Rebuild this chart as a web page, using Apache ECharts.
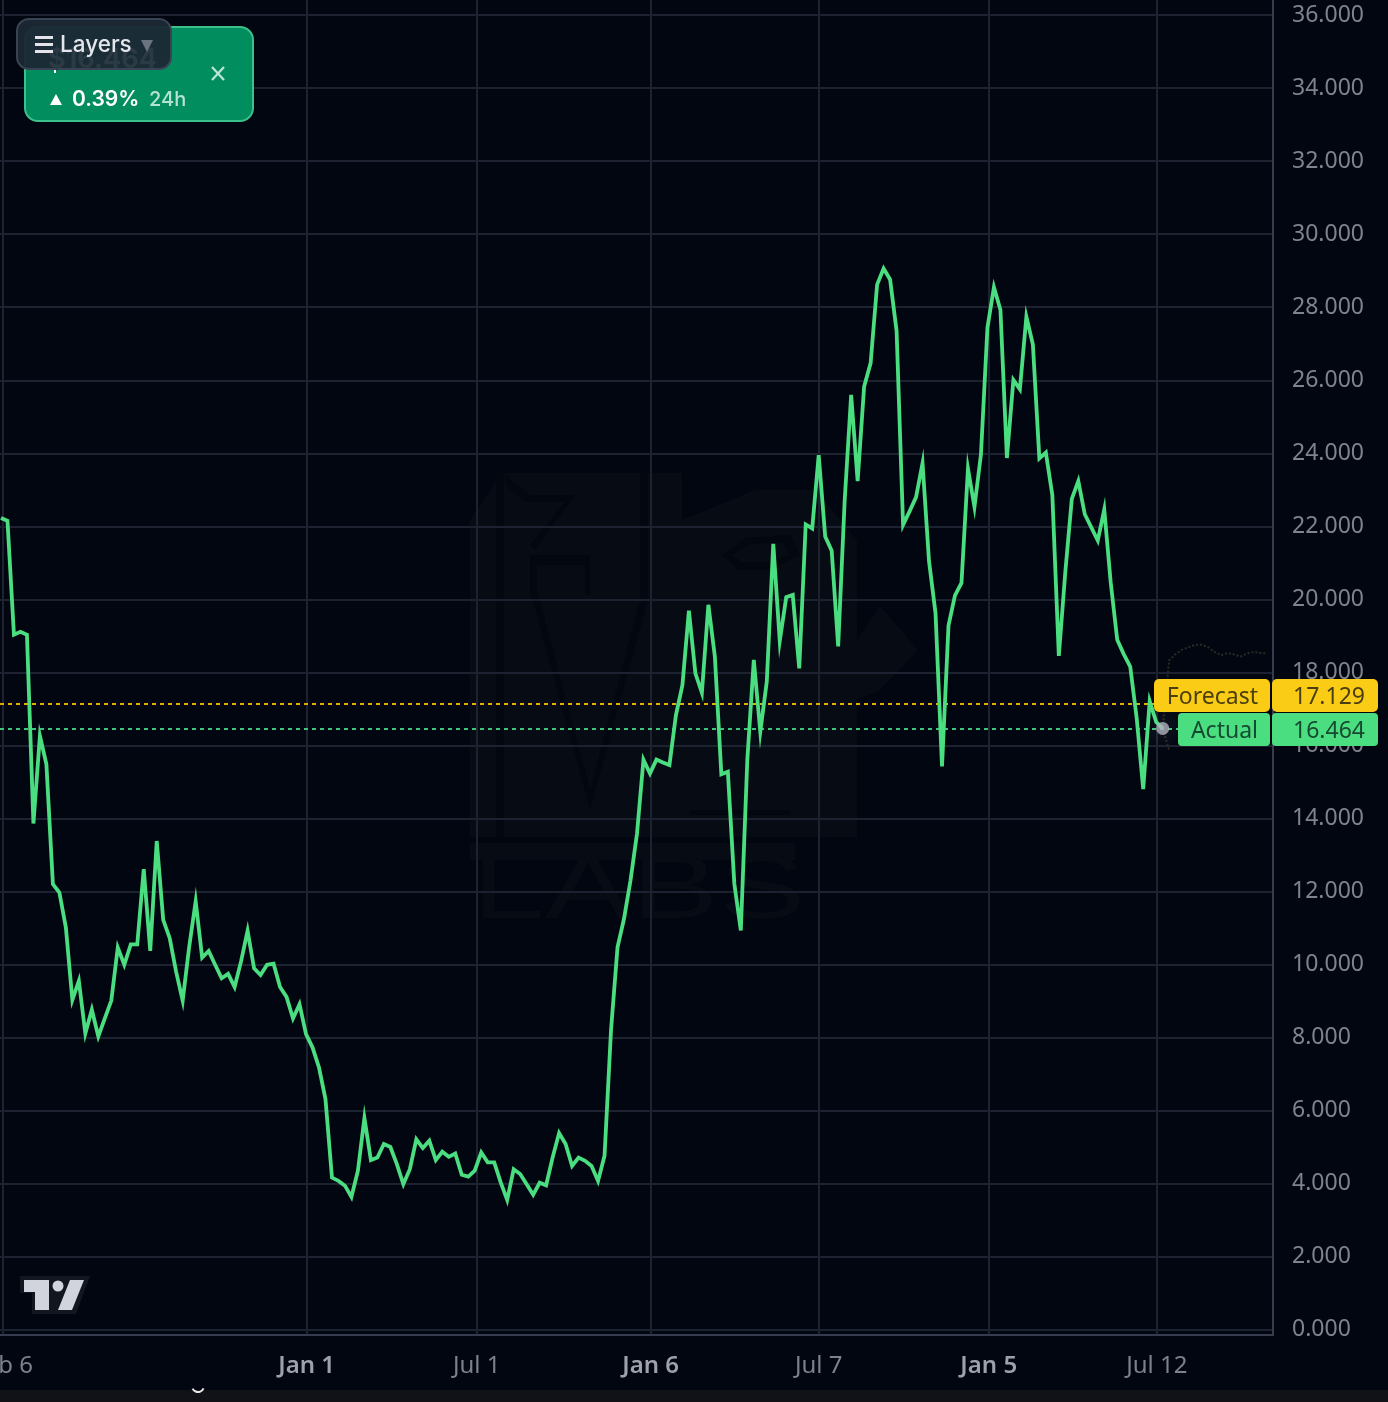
<!DOCTYPE html>
<html><head><meta charset="utf-8">
<style>html,body{margin:0;padding:0;background:#020611;overflow:hidden}#c{width:1388px;height:1402px}</style>
<script src="https://cdn.jsdelivr.net/npm/echarts@6/dist/echarts.min.js"></script>
</head><body><div id="c"></div>
<script>
const closeValues=[22.23,22.15,19.03,19.11,19.03,13.86,16.26,15.48,12.2,11.97,11.01,9.03,9.55,8.11,8.76,8.03,8.52,9.01,10.46,9.99,10.55,10.55,12.61,10.37,13.38,11.22,10.72,9.79,9.01,10.48,11.73,10.19,10.37,9.99,9.62,9.74,9.38,10.09,10.92,9.89,9.71,9.99,10.02,9.38,9.11,8.52,8.91,8.09,7.73,7.18,6.31,4.16,4.07,3.94,3.63,4.35,5.79,4.64,4.71,5.08,5.0,4.53,3.98,4.39,5.21,4.97,5.17,4.64,4.87,4.73,4.82,4.24,4.19,4.35,4.85,4.58,4.58,4.03,3.55,4.39,4.26,3.98,3.69,4.02,3.95,4.71,5.38,5.08,4.48,4.71,4.62,4.48,4.07,4.76,8.2,10.47,11.25,12.3,13.58,15.61,15.23,15.61,15.53,15.46,16.83,17.65,19.69,17.97,17.44,19.85,18.43,15.21,15.28,12.21,10.93,15.6,18.34,16.37,17.75,21.52,18.86,20.06,20.12,18.11,22.05,21.94,23.95,21.72,21.33,18.71,22.7,25.6,23.24,25.83,26.47,28.62,29.06,28.76,27.35,22.04,22.41,22.8,23.73,21.04,19.62,15.42,19.28,20.11,20.45,23.58,22.53,23.97,27.44,28.55,27.93,23.87,26.01,25.75,27.74,26.98,23.86,24.02,22.85,18.45,20.75,22.75,23.24,22.33,21.97,21.61,22.46,20.45,18.89,18.5,18.16,16.74,14.8,17.21,16.64,16.464];
const forecastUpper=[16.464,18.33,18.5,18.62,18.69,18.75,18.76,18.69,18.56,18.47,18.53,18.49,18.43,18.52,18.56,18.53,18.52];
const forecastLower=[16.464,15.87];
const forecastValue=17.129;
const actualValue=16.464;
const yTicks=[0,2,4,6,8,10,12,14,16,18,20,22,24,26,28,30,32,34,36];
const xTickWeeks=[0.26,47.1,73.3,100.1,126.0,152.2,178.1];
const xTickLabels=['Feb 6','Jan 1','Jul 1','Jan 6','Jul 7','Jan 5','Jul 12'];
const xTickStrong=['Jan 1','Jan 6','Jan 5'];

const pts=closeValues.map((v,i)=>[i,v]);
const up=forecastUpper.map((v,i)=>[closeValues.length-1+i,v]);
const lo=forecastLower.map((v,i)=>[closeValues.length-1+i,v]);
const FONT='"Noto Sans"';
const wm='#070b14', wmCut='#03070f';
function poly(points,fill){return{type:'polygon',z:-1,silent:true,shape:{points},style:{fill}};}
function txt(x,y,text,font,fill,align){return{type:'text',z:101,silent:true,x,y,style:{text,font,fill,align:align||'left',verticalAlign:'middle'}};}
function rect(x,y,w,h,fill,r,stroke,z){return{type:'rect',z:z||100,silent:true,shape:{x,y,width:w,height:h,r:r||0},style:{fill,stroke:stroke||null,lineWidth:stroke?2:0}};}

const graphics=[
 poly([[470,520],[502,473],[682,473],[682,837],[470,837]],wm),
 poly([[682,520],[755,490],[815,490],[857,540],[857,837],[682,837]],wm),
 poly([[857,640],[880,606],[918,650],[880,690],[857,700]],wm),
 poly([[470,843],[795,843],[795,860],[470,860]],wm),
 poly([[530,555],[590,555],[590,595],[585,595],[585,565],[537,565],[537,590],[590,790],[640,600],[640,470],[648,470],[648,600],[590,810],[530,590]],wmCut),
 poly([[496,473],[504,473],[504,837],[496,837]],wmCut),
 poly([[505,475],[530,495],[575,495],[535,550],[530,545],[565,502],[525,502],[505,485]],wmCut),
 poly([[690,810],[790,810],[790,815],[690,815]],wmCut),
 poly([[722,555],[745,538],[790,535],[800,555],[770,570],[738,570]],wmCut),
 poly([[732,555],[750,544],[782,542],[790,555],[768,562],[742,562]],wm),
 {type:'text',z:-1,silent:true,x:472,y:893,scaleX:1.45,style:{text:'LABS',font:'400 90px "Liberation Sans"',fill:wm,verticalAlign:'middle'}},
 rect(0,1390,1388,12,'#111218',0,null,99),
 {type:'arc',z:100,silent:true,shape:{cx:198,cy:1386,r:6,startAngle:0.4,endAngle:2.7},style:{stroke:'#e8e8e8',lineWidth:2,fill:null}},
 rect(25,27,228,94,'#028d5f',13,'#3cc08c'),
 {type:'rect',z:101,silent:true,shape:{x:54,y:69,width:2,height:4},style:{fill:'#ffffff'}},
 {type:'polygon',z:101,silent:true,shape:{points:[[50,105],[62,105],[56,94]]},style:{fill:'#fff'}},
 txt(72,100,'0.39%','600 21px Inter','#ffffff'),
 txt(149,100,'24h','500 20px Inter','#b6e2d1'),
 {type:'line',z:101,silent:true,shape:{x1:212,y1:67,x2:224,y2:80},style:{stroke:'#bfe6d6',lineWidth:2.2}},
 {type:'line',z:101,silent:true,shape:{x1:224,y1:67,x2:212,y2:80},style:{stroke:'#bfe6d6',lineWidth:2.2}},
 {type:'rect',z:102,silent:true,shape:{x:17,y:19,width:154,height:50,r:12},style:{fill:'rgba(27,41,52,0.96)',stroke:'#3a4354',lineWidth:2}},
 {type:'text',z:103,silent:true,x:48,y:60,style:{text:'$16.464',font:'700 27px Inter',fill:'#2b3a44',verticalAlign:'middle'}},
 {type:'rect',z:103,silent:true,shape:{x:35,y:36,width:18,height:3},style:{fill:'#e2e4ea'}},
 {type:'rect',z:103,silent:true,shape:{x:35,y:43,width:18,height:3},style:{fill:'#e2e4ea'}},
 {type:'rect',z:103,silent:true,shape:{x:35,y:50,width:18,height:3},style:{fill:'#e2e4ea'}},
 {type:'text',z:103,silent:true,x:60,y:45,style:{text:'Layers',font:'500 22.5px Inter',fill:'#e4e6ec',verticalAlign:'middle'}},
 {type:'polygon',z:103,silent:true,shape:{points:[[141,40],[153,40],[147,52]]},style:{fill:'#6b7280'}},
 {type:'polygon',z:100,silent:true,shape:{points:[[20,1276],[90,1276],[76,1314],[32,1314],[32,1293],[20,1293]]},style:{fill:'#12161f'}},
 {type:'polygon',z:101,silent:true,shape:{points:[[24,1280],[49,1280],[49,1310],[35,1310],[35,1292],[24,1292]]},style:{fill:'#d1d4dc'}},
 {type:'circle',z:101,silent:true,shape:{cx:58,cy:1286,r:5.5},style:{fill:'#d1d4dc'}},
 {type:'polygon',z:101,silent:true,shape:{points:[[70,1280],[84,1280],[72,1310],[58,1310]]},style:{fill:'#d1d4dc'}},
 rect(1154,679,116,33,'#facc15',5),
 rect(1272,679,106,33,'#facc15',5),
 rect(1178,713,92,33,'#4ade80',4),
 rect(1272,713,106,33,'#4ade80',4),
 txt(1258,697,'Forecast','23px '+FONT,'#4a3f10','right'),
 txt(1365,697,forecastValue.toFixed(3),'23px '+FONT,'#4a3f10','right'),
 txt(1258,731,'Actual','23px '+FONT,'#164a30','right'),
 txt(1365,731,actualValue.toFixed(3),'23px '+FONT,'#164a30','right')
];

const chart=echarts.init(document.getElementById('c'),null,{renderer:'canvas'});
chart.setOption({
 animation:false,
 backgroundColor:'#020611',
 grid:{left:0,top:0,width:1273,height:1335,outerBoundsMode:'none',containLabel:false},
 xAxis:{type:'value',min:-0.15,max:196,
  axisLine:{show:true,onZero:false,lineStyle:{color:'#363c4e',width:2}},
  axisTick:{show:false,customValues:xTickWeeks},
  splitLine:{show:true,lineStyle:{color:'#1c2230',width:2}},
  axisLabel:{customValues:xTickWeeks,margin:19,hideOverlap:false,
   formatter:v=>{const s=xTickLabels[xTickWeeks.indexOf(v)];return xTickStrong.includes(s)?'{b|'+s+'}':'{n|'+s+'}';},
   rich:{b:{fontSize:24,fontWeight:600,fontFamily:'Noto Sans',color:'#9ea1aa'},n:{fontSize:24,fontWeight:400,fontFamily:'Noto Sans',color:'#7e818a'}}}},
 yAxis:{type:'value',position:'right',min:-0.15,max:36.415,
  axisLine:{show:true,onZero:false,lineStyle:{color:'#363c4e',width:2}},
  axisTick:{show:false,customValues:yTicks},
  splitLine:{show:true,lineStyle:{color:'#1c2230',width:2}},
  axisLabel:{customValues:yTicks,margin:19,color:'#80838c',fontSize:23,fontFamily:'Noto Sans',
   formatter:v=>v.toFixed(3)}},
 series:[
  {type:'line',name:'Actual',data:pts,showSymbol:false,silent:true,z:5,clip:true,
   lineStyle:{color:'#4ade80',width:3.8,join:'miter'},
   markLine:{silent:true,symbol:'none',label:{show:false},animation:false,
    data:[{yAxis:forecastValue,lineStyle:{color:'#e3ad0c',type:[4,4],width:2}},
          {yAxis:actualValue,lineStyle:{color:'#3cc47c',type:[4,4],width:2}}]}},
  {type:'line',name:'Forecast upper',data:up,showSymbol:false,silent:true,z:3,lineStyle:{color:'#2a2a25',width:2,type:[2,2]}},
  {type:'line',name:'Forecast lower',data:lo,showSymbol:false,silent:true,z:3,lineStyle:{color:'#2a2a25',width:2,type:[2,2]}},
  {type:'scatter',name:'Last',data:[pts[pts.length-1]],symbolSize:13,silent:true,z:6,
   itemStyle:{color:'#b0b3bf',shadowBlur:22,shadowColor:'rgba(255,255,255,0.4)'}}
 ],
 graphic:{elements:graphics}
});
</script></body></html>
